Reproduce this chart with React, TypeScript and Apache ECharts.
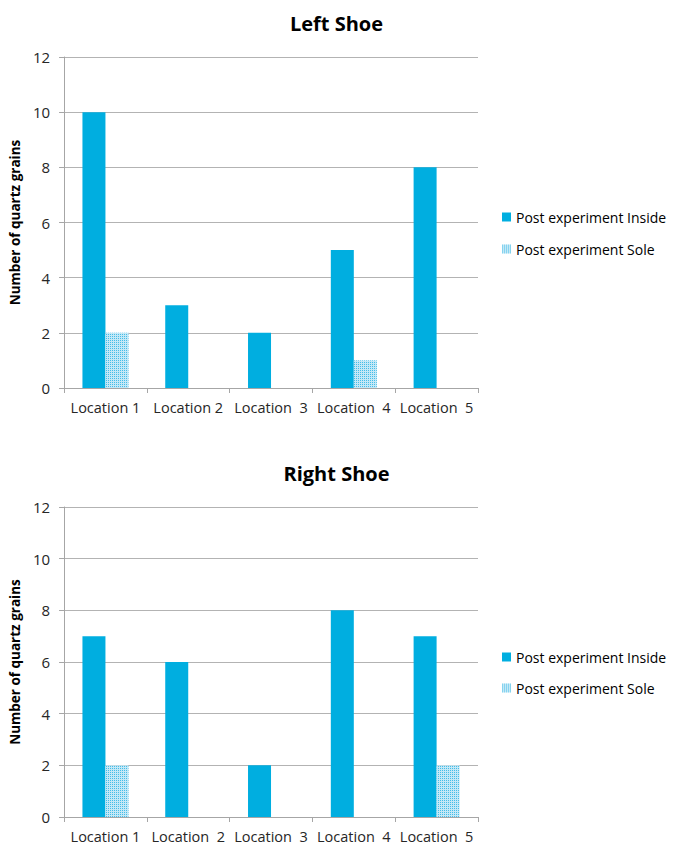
import React, { useEffect, useRef } from "react";
import * as echarts from "echarts";

const leftCategories = ["Location 1", "Location 2", "Location  3", "Location  4", "Location  5"];
const rightCategories = ["Location 1", "Location  2", "Location  3", "Location  4", "Location  5"];
const leftInside = [10, 3, 2, 5, 8];
const leftSole = [2, 0, 0, 1, 0];
const rightInside = [7, 6, 2, 8, 7];
const rightSole = [2, 0, 0, 0, 2];
const seriesNames = ["Post experiment Inside", "Post experiment Sole"];

const FONT = "'Open Sans', sans-serif";
const BLUE = "#00aee0";

const soleStyle = {
  color: "#c4e8f6",
  decal: {
    symbol: "rect",
    symbolSize: 1,
    color: "#45bde8",
    dashArrayX: [1, 1],
    dashArrayY: [1, 1],
    rotation: 0,
  },
};

export default function App() {
  const ref = useRef<HTMLDivElement>(null);
  useEffect(() => {
    const chart = echarts.init(ref.current!, null, { renderer: "svg" });
    const grids = [
      { left: 64, width: 414, top: 57, height: 331 },
      { left: 64, width: 414, top: 507, height: 310 },
    ];
    const cats = [leftCategories, rightCategories];
    const mkX = (i: number) => ({
      type: "category",
      gridIndex: i,
      data: cats[i],
      axisLine: { lineStyle: { color: "#a6a6a6" } },
      axisTick: { show: true, length: 5, lineStyle: { color: "#a6a6a6" } },
      axisLabel: { color: "#262626", fontFamily: FONT, fontSize: 14.5, margin: 12, interval: 0 },
    });
    const mkY = (i: number) => ({
      type: "value",
      gridIndex: i,
      min: 0,
      max: 12,
      interval: 2,
      name: "Number of quartz grains",
      nameLocation: "middle",
      nameGap: 42,
      nameTextStyle: { color: "#000", fontFamily: FONT, fontSize: 13.5, fontWeight: "bold" },
      axisLine: { show: true, lineStyle: { color: "#a6a6a6" } },
      axisTick: { show: true, length: 5, lineStyle: { color: "#a6a6a6" } },
      axisLabel: { color: "#262626", fontFamily: FONT, fontSize: 15, margin: 14 },
      splitLine: { lineStyle: { color: "#b3b3b3" } },
    });
    const mkBar = (i: number, name: string, data: number[], style: any) => ({
      type: "bar",
      name,
      xAxisIndex: i,
      yAxisIndex: i,
      data,
      barWidth: 23,
      barGap: "0%",
      itemStyle: style,
    });
    const legendText = { fontFamily: FONT, fontSize: 14, color: "#000" };
    const titleText = { fontFamily: FONT, fontSize: 20, fontWeight: "bold", color: "#000" };
    chart.setOption({
      animation: false,
      title: [
        { text: "Left Shoe", left: "center", top: 8, textStyle: titleText },
        { text: "Right Shoe", left: "center", top: 458, textStyle: titleText },
      ],
      legend: [
        { orient: "vertical", left: 497, top: 205, icon: "rect", itemWidth: 9, itemHeight: 9, itemGap: 18, data: seriesNames, textStyle: legendText },
        { orient: "vertical", left: 497, top: 645, icon: "rect", itemWidth: 9, itemHeight: 9, itemGap: 17, data: seriesNames, textStyle: legendText },
      ],
      grid: grids,
      xAxis: [mkX(0), mkX(1)],
      yAxis: [mkY(0), mkY(1)],
      series: [
        mkBar(0, seriesNames[0], leftInside, { color: BLUE }),
        mkBar(0, seriesNames[1], leftSole, soleStyle),
        mkBar(1, seriesNames[0], rightInside, { color: BLUE }),
        mkBar(1, seriesNames[1], rightSole, soleStyle),
      ],
    });
    return () => chart.dispose();
  }, []);
  return (
    <div
      ref={ref}
      style={{ position: "fixed", left: 0, top: 0, width: 673, height: 845, background: "#fff" }}
    />
  );
}
